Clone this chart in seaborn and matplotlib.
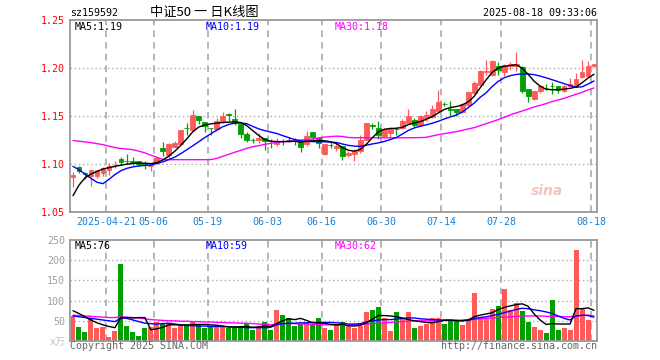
import numpy as np
import pandas as pd
import matplotlib
matplotlib.use('Agg')
import matplotlib.pyplot as plt
import seaborn as sns

# ---------------- data ----------------
opens = [1.086, 1.097, 1.0905, 1.0875, 1.0878, 1.091, 1.0938, 1.0986, 1.1052, 1.1036,
         1.1028, 1.1033, 1.1008, 1.0983, 1.101, 1.1165, 1.109, 1.118, 1.1212, 1.1378,
         1.135, 1.1503, 1.144, 1.1378, 1.136, 1.1434, 1.1516, 1.1464, 1.142, 1.1316,
         1.1248, 1.1245, 1.1272, 1.1237, 1.121, 1.1244, 1.1254, 1.1247, 1.1228, 1.1205,
         1.1337, 1.1268, 1.1106, 1.1203, 1.1163, 1.1184, 1.1095, 1.1105, 1.1132, 1.1253,
         1.1405, 1.1375, 1.1295, 1.132, 1.1362, 1.1375, 1.1427, 1.1462, 1.141, 1.1477,
         1.1494, 1.1549, 1.1627, 1.1568, 1.1573, 1.1538, 1.1618, 1.174, 1.182, 1.1962,
         1.1931, 1.2024, 1.1958, 1.2017, 1.2024, 1.201, 1.1781, 1.1677, 1.1757, 1.1793,
         1.181, 1.181, 1.1757, 1.1816, 1.1826, 1.1906, 1.1913, 1.2017]
highs = [1.092, 1.098, 1.0913, 1.094, 1.094, 1.097, 1.101, 1.103, 1.1073, 1.1108,
         1.107, 1.1035, 1.1028, 1.1, 1.1075, 1.123, 1.1215, 1.1236, 1.1355, 1.143,
         1.1566, 1.1503, 1.144, 1.138, 1.148, 1.1545, 1.153, 1.1572, 1.142, 1.133,
         1.1274, 1.132, 1.1272, 1.126, 1.127, 1.126, 1.128, 1.127, 1.1228, 1.134,
         1.1337, 1.1268, 1.1212, 1.1226, 1.1219, 1.1184, 1.114, 1.1153, 1.1305, 1.143,
         1.1425, 1.145, 1.1378, 1.139, 1.1386, 1.147, 1.1576, 1.148, 1.151, 1.1555,
         1.161, 1.177, 1.165, 1.166, 1.1573, 1.1636, 1.1757, 1.1861, 1.1983, 1.208,
         1.208, 1.2059, 1.2045, 1.2059, 1.2163, 1.2017, 1.1781, 1.1757, 1.1826, 1.1837,
         1.1851, 1.181, 1.1826, 1.1896, 1.1948, 1.208, 1.2069, 1.2045]
lows = [1.076, 1.091, 1.0847, 1.0775, 1.0854, 1.0872, 1.089, 1.096, 1.099, 1.1,
        1.0993, 1.0976, 1.0945, 1.0924, 1.1003, 1.1085, 1.106, 1.1176, 1.12, 1.1305,
        1.135, 1.142, 1.133, 1.1305, 1.1357, 1.1427, 1.145, 1.141, 1.1267, 1.1226,
        1.122, 1.1219, 1.1145, 1.1167, 1.119, 1.1194, 1.1226, 1.12, 1.1122, 1.1184,
        1.1236, 1.1167, 1.1097, 1.1167, 1.1132, 1.1038, 1.1073, 1.1028, 1.1115, 1.1246,
        1.1365, 1.126, 1.1284, 1.1284, 1.1305, 1.1364, 1.142, 1.139, 1.14, 1.1452,
        1.1483, 1.1538, 1.16, 1.1497, 1.1497, 1.1531, 1.1608, 1.1733, 1.181, 1.193,
        1.192, 1.1931, 1.192, 1.1983, 1.1965, 1.174, 1.1643, 1.1667, 1.174, 1.1768,
        1.1733, 1.174, 1.1747, 1.1809, 1.1816, 1.1896, 1.1906, 1.201]
closes = [1.0885, 1.0925, 1.090, 1.094, 1.0934, 1.0955, 1.0976, 1.099, 1.1017, 1.1034,
          1.1026, 1.1003, 1.0998, 1.0993, 1.106, 1.1135, 1.1213, 1.1215, 1.135, 1.1374,
          1.1513, 1.1455, 1.1396, 1.1375, 1.145, 1.1503, 1.1513, 1.143, 1.131, 1.1246,
          1.1246, 1.127, 1.1236, 1.1235, 1.1243, 1.1242, 1.1252, 1.1245, 1.1172, 1.1295,
          1.1278, 1.1222, 1.121, 1.1201, 1.1184, 1.1084, 1.1118, 1.114, 1.1253, 1.1423,
          1.1392, 1.13, 1.1366, 1.1378, 1.136, 1.1444, 1.1497, 1.141, 1.1497, 1.1507,
          1.157, 1.165, 1.1625, 1.1566, 1.1538, 1.1629, 1.1747, 1.1844, 1.1965, 1.1966,
          1.2069, 1.1976, 1.2035, 1.2045, 1.2045, 1.1757, 1.1705, 1.1757, 1.1816, 1.1791,
          1.1808, 1.1775, 1.1816, 1.1837, 1.1885, 1.1955, 1.2017, 1.2045]

ma5 = [1.067, 1.078, 1.0855, 1.0895, 1.0922, 1.0948, 1.0962, 1.0975, 1.0988, 1.0998,
       1.1006, 1.1009, 1.1008, 1.1004, 1.1014, 1.1042, 1.1082, 1.1133, 1.1195, 1.1262,
       1.1335, 1.1385, 1.1406, 1.1418, 1.1426, 1.1432, 1.1436, 1.1438, 1.1432, 1.140,
       1.1349, 1.1298, 1.1256, 1.1238, 1.1234, 1.1233, 1.1234, 1.1237, 1.1228, 1.1236,
       1.1242, 1.1244, 1.1242, 1.1232, 1.1212, 1.117, 1.1143, 1.1134, 1.1152, 1.1207,
       1.1275, 1.1335, 1.1362, 1.137, 1.1372, 1.1382, 1.141, 1.1428, 1.1442, 1.1466,
       1.1495, 1.1532, 1.1568, 1.1588, 1.1598, 1.1615, 1.1648, 1.1705, 1.1795, 1.1878,
       1.1955, 1.2, 1.2018, 1.2026, 1.2034, 1.1998, 1.1935, 1.1862, 1.1812, 1.1778,
       1.1774, 1.1773, 1.178, 1.1788, 1.1802, 1.1846, 1.1895, 1.1935]
ma10 = [1.0975, 1.094, 1.0895, 1.085, 1.081, 1.0795, 1.084, 1.089, 1.093, 1.0955,
        1.097, 1.098, 1.0985, 1.099, 1.1005, 1.1022, 1.1046, 1.1072, 1.1108, 1.1148,
        1.119, 1.1232, 1.1275, 1.1314, 1.1352, 1.1388, 1.1412, 1.1425, 1.1428, 1.142,
        1.1392, 1.1366, 1.1348, 1.1333, 1.1318, 1.1296, 1.1275, 1.1255, 1.1242, 1.1236,
        1.1233, 1.1232, 1.1231, 1.1228, 1.1224, 1.1208, 1.1194, 1.1186, 1.1184, 1.1196,
        1.1209, 1.122, 1.1235, 1.1255, 1.1276, 1.1312, 1.135, 1.1376, 1.1393, 1.1408,
        1.1425, 1.1445, 1.1469, 1.149, 1.151, 1.1541, 1.1587, 1.1635, 1.1695, 1.1742,
        1.1808, 1.186, 1.1898, 1.192, 1.1933, 1.1937, 1.1937, 1.1931, 1.1916, 1.1898,
        1.1878, 1.1858, 1.1837, 1.1817, 1.1799, 1.1804, 1.1832, 1.1865]
ma30 = [1.1245, 1.1238, 1.123, 1.1222, 1.1212, 1.1202, 1.1186, 1.1172, 1.1161, 1.1156,
        1.1149, 1.1134, 1.1116, 1.1092, 1.107, 1.1048, 1.1045, 1.1045, 1.1045, 1.1045,
        1.1045, 1.1045, 1.1045, 1.1046, 1.1058, 1.108, 1.1101, 1.1122, 1.1142, 1.1163,
        1.118, 1.1191, 1.1204, 1.1215, 1.1225, 1.1232, 1.1237, 1.1243, 1.1249, 1.1253,
        1.126, 1.1272, 1.128, 1.1286, 1.129, 1.1287, 1.1276, 1.1274, 1.1274, 1.1273,
        1.1273, 1.1273, 1.1273, 1.1273, 1.1273, 1.1273, 1.1274, 1.1274, 1.1275, 1.1278,
        1.1292, 1.1306, 1.1316, 1.1327, 1.1337, 1.1351, 1.1365, 1.1379, 1.14, 1.142,
        1.1441, 1.1462, 1.1486, 1.1511, 1.1532, 1.1552, 1.1573, 1.1594, 1.1611, 1.1629,
        1.165, 1.1667, 1.1684, 1.1705, 1.1726, 1.1747, 1.1771, 1.1792]

volume = [62.5, 35, 22.5, 57, 32.5, 35, 10, 25, 190, 37.5,
          22.5, 12.5, 32.5, 35, 46, 41.5, 43, 31, 39, 43,
          50, 40, 31, 37.5, 39, 35, 31, 31, 37.5, 44,
          27.5, 35, 47.5, 27.5, 77.5, 65, 57, 37.5, 43, 44,
          41.5, 57, 32, 27.5, 43, 47.5, 37.5, 31, 37.5, 71,
          77.5, 85, 57, 25, 72.5, 57, 72.5, 32.5, 37.5, 43,
          57, 57, 43, 50, 50, 40, 52.5, 118, 60, 57,
          79, 87.5, 127.5, 77.5, 94, 75, 48, 35, 27.5, 20,
          102.5, 27.5, 32, 27.5, 225, 82, 52.5, 2.5]
vol_ma5 = [75, 68, 60, 52, 45, 40, 36, 33, 58, 58, 57, 58, 58, 28, 30, 34, 40, 40, 40, 39,
           41, 41, 41, 40, 39, 37, 35, 35, 35, 36, 34, 35, 37, 36, 43, 50, 55, 53, 56, 51,
           45, 45, 44, 41, 40, 41, 38, 37, 39, 45, 54, 63, 63, 62, 60, 57, 53, 50, 48, 46,
           45, 48, 51, 52, 51, 50, 52, 60, 64, 67, 70, 78, 83, 87, 90, 92, 86, 67, 52, 41,
           43, 42, 42, 42, 80, 80, 82, 76]
vol_ma10 = [62, 60, 58, 56, 54, 52, 50, 48, 57, 56, 52, 48, 44, 43, 42, 43, 44, 42, 40, 38,
            38, 37, 37, 36, 36, 36, 35, 34, 34, 33, 33, 33, 33, 34, 40, 43, 44, 44, 45, 45,
            46, 46, 46, 46, 45, 44, 42, 42, 43, 47, 50, 52, 53, 53, 54, 56, 57, 57, 55, 54,
            53, 52, 52, 51, 50, 50, 51, 55, 58, 60, 63, 66, 70, 74, 78, 81, 80, 77, 75, 72,
            68, 62, 56, 52, 62, 64, 63, 59]
vol_ma30 = [64, 63, 62, 61, 60, 59, 58, 58, 60, 59, 58, 57, 55, 53, 52, 51, 50, 50, 49, 49,
            48, 48, 47, 47, 46, 46, 45, 45, 44, 44, 43, 42, 41, 40, 42, 43, 43, 43, 42, 42,
            41, 41, 40, 40, 40, 39, 39, 40, 41, 42, 43, 44, 45, 46, 47, 48, 49, 50, 50, 50,
            50, 50, 51, 51, 51, 52, 53, 54, 55, 56, 57, 58, 59, 60, 61, 62, 62, 62, 62, 61,
            61, 61, 60, 60, 62, 63, 64, 62]

tick_idx = [6, 14, 23, 33, 42, 52, 62, 72, 87]
tick_labels = ['2025-04-21', '05-06', '05-19', '06-03', '06-16', '06-30', '07-14', '07-28', '08-18']
price_ticks = [1.05, 1.10, 1.15, 1.20, 1.25]
vol_ticks = [0, 50, 100, 150, 200, 250]
vol_tick_labels = ['x万', '50', '100', '150', '200', '250']

# ---------------- style ----------------
sns.set_theme(style="white")
plt.rcParams['font.family'] = ['DejaVu Sans Mono', 'Noto Sans CJK SC']

RED = '#ff5a5a'
GREEN = '#00a000'
BLUE = '#0000ff'
MAGENTA = '#ff00ff'
DATE_BLUE = '#1a80d4'
FRAME = '#999999'
GRID = '#aaaaaa'
FS = 7.2

df = pd.DataFrame({'open': opens, 'high': highs, 'low': lows, 'close': closes,
                   'volume': volume})
df['idx'] = np.arange(len(df))
df['dir'] = np.where(df['close'] >= df['open'], 'up', 'down')
df['color'] = np.where(df['dir'] == 'up', RED, GREEN)

W, H = 660, 360
fig = plt.figure(figsize=(6.6, 3.6), dpi=100)
ax = fig.add_axes([70 / W, 1 - 212 / H, 527 / W, 192 / H])
axv = fig.add_axes([70 / W, 1 - 341 / H, 527 / W, 101 / H])

# ---------------- price panel ----------------
ax.vlines(df['idx'], df['low'], df['high'], colors=df['color'], linewidth=0.9, zorder=3)
ax.bar(df['idx'], df['close'] - df['open'], bottom=df['open'], width=0.8,
       color=df['color'], edgecolor=df['color'], linewidth=0.6, zorder=4)

sns.lineplot(x=df['idx'], y=ma30, ax=ax, color=MAGENTA, linewidth=1.0, zorder=5)
sns.lineplot(x=df['idx'], y=ma10, ax=ax, color=BLUE, linewidth=1.0, zorder=6)
sns.lineplot(x=df['idx'], y=ma5, ax=ax, color='black', linewidth=1.0, zorder=7)

ax.set_xlim(-0.5, len(df) - 0.5)
ax.set_ylim(1.05, 1.25)
ax.set_yticks(price_ticks)
ax.set_yticklabels([f'{t:.2f}' for t in price_ticks], color='red', fontsize=FS)
ax.set_xticks([i - 0.5 for i in tick_idx])
ax.set_xticklabels(tick_labels, color=DATE_BLUE, fontsize=FS)
ax.tick_params(axis='both', length=0, pad=3.5)
ax.set_xlabel('')
ax.set_ylabel('')
for t in price_ticks[1:-1]:
    ax.axhline(t, color=GRID, linestyle=(0, (1, 2)), linewidth=1, zorder=1)
for i in tick_idx:
    ax.axvline(i - 0.5, color=GRID, linestyle=(0, (4, 3)), linewidth=1.2, zorder=1)

ax.text(0.008, 0.965, 'MA5:1.19', transform=ax.transAxes, color='black', fontsize=FS, va='center')
ax.text(0.257, 0.965, 'MA10:1.19', transform=ax.transAxes, color=BLUE, fontsize=FS, va='center')
ax.text(0.503, 0.965, 'MA30:1.18', transform=ax.transAxes, color=MAGENTA, fontsize=FS, va='center')
ax.text(0.905, 0.11, 'sina', transform=ax.transAxes, color='#f3c4c4', fontsize=10,
        fontstyle='italic', fontweight='bold', family='DejaVu Sans', ha='center', va='center')

# ---------------- volume panel ----------------
sns.barplot(data=df, x='idx', y='volume', hue='dir', palette={'up': RED, 'down': GREEN},
            native_scale=True, dodge=False, width=0.83, saturation=1, errorbar=None,
            legend=False, linewidth=0, ax=axv, zorder=3)
sns.lineplot(x=df['idx'], y=vol_ma30, ax=axv, color=MAGENTA, linewidth=1.0, zorder=5)
sns.lineplot(x=df['idx'], y=vol_ma10, ax=axv, color=BLUE, linewidth=1.0, zorder=6)
sns.lineplot(x=df['idx'], y=vol_ma5, ax=axv, color='black', linewidth=1.0, zorder=7)

axv.set_xlim(-0.5, len(df) - 0.5)
axv.set_ylim(0, 250)
axv.set_yticks(vol_ticks)
axv.set_yticklabels(vol_tick_labels, color='#a0a0a0', fontsize=FS)
axv.get_yticklabels()[0].set_color('#c0c0c0')
axv.set_xticks([i - 0.5 for i in tick_idx])
axv.tick_params(axis='both', length=0, pad=3.5, labelbottom=False)
axv.set_xlabel('')
axv.set_ylabel('')
for t in vol_ticks[1:-1]:
    axv.axhline(t, color=GRID, linestyle=(0, (1, 2)), linewidth=1, zorder=1)
for i in tick_idx:
    axv.axvline(i - 0.5, color=GRID, linestyle=(0, (4, 3)), linewidth=1.2, zorder=1)

axv.text(0.008, 0.94, 'MA5:76', transform=axv.transAxes, color='black', fontsize=FS, va='center')
axv.text(0.257, 0.94, 'MA10:59', transform=axv.transAxes, color=BLUE, fontsize=FS, va='center')
axv.text(0.503, 0.94, 'MA30:62', transform=axv.transAxes, color=MAGENTA, fontsize=FS, va='center')

for a in (ax, axv):
    for s in a.spines.values():
        s.set_visible(True)
        s.set_color(FRAME)
        s.set_linewidth(1.3)
        s.set_zorder(10)

# ---------------- header / footer ----------------
fig.text(70 / W, 1 - 13 / H, 'sz159592', fontsize=FS, color='black', va='center')
fig.text(150 / W, 1 - 12.5 / H, '中证50 一 日K线图', fontsize=9.5, color='black', va='center',
         family=['Noto Sans CJK SC', 'DejaVu Sans'])
fig.text(597 / W, 1 - 13 / H, '2025-08-18 09:33:06', fontsize=FS, color='black',
         va='center', ha='right')
fig.text(70 / W, 1 - 346 / H, 'Copyright 2025 SINA.COM', fontsize=FS, color='#666666', va='center')
fig.text(597 / W, 1 - 346 / H, 'http://finance.sina.com.cn', fontsize=FS, color='#666666',
         va='center', ha='right')

fig.savefig('out.png', dpi=100)
